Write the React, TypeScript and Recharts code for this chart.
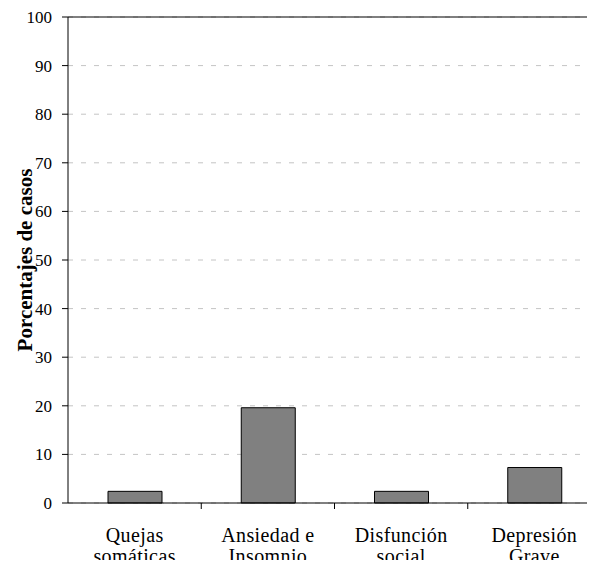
import React from 'react';
import { BarChart, Bar, XAxis, YAxis, CartesianGrid, ReferenceLine } from 'recharts';

// categories are two-line labels in the original
const categories = ['Quejas|somáticas', 'Ansiedad e|Insomnio', 'Disfunción|social', 'Depresión|Grave'];
const percentages = [2.4, 19.6, 2.4, 7.3];
const yTicks = [0, 10, 20, 30, 40, 50, 60, 70, 80, 90, 100];

const data = categories.map((name, i) => ({ name, value: percentages[i] }));

const CHART_W = 640;
const CHART_H = 568;
const MARGIN = { top: 9, right: 47, left: 0, bottom: 13 };
const Y_AXIS_W = 60;
const BAND = (CHART_W - MARGIN.left - MARGIN.right - Y_AXIS_W) / categories.length;
const FONT = '"Liberation Serif", "Times New Roman", serif';

const CategoryTick = (props: any) => {
  const { x, y, payload } = props;
  const lines = String(payload.value).split('|');
  return (
    <g>
      {/* tick marks sit on category boundaries, not centres */}
      <line x1={x + BAND / 2} x2={x + BAND / 2} y1={y} y2={y + 6} stroke="#000" />
      {lines.map((line, i) => (
        <text
          key={i}
          x={x}
          y={y + 39 + i * 21}
          textAnchor="middle"
          fontFamily={FONT}
          fontSize={20}
          letterSpacing={0.4}
          fill="#000"
        >
          {line}
        </text>
      ))}
    </g>
  );
};

const App: React.FC = () => {
  return (
    // chart is wider than the window on purpose: the right frame edge falls off-page
    <div style={{ width: 587, height: 560, overflow: 'hidden', marginBottom: -8 }}>
      <BarChart width={CHART_W} height={CHART_H} data={data} margin={MARGIN}>
        <CartesianGrid vertical={false} strokeDasharray="5 8" stroke="#c4c4c4" />
        <XAxis
          dataKey="name"
          axisLine={{ stroke: '#000' }}
          tickLine={false}
          tickSize={0}
          tickMargin={0}
          height={60}
          interval={0}
          tick={<CategoryTick />}
        />
        <YAxis
          domain={[0, 100]}
          ticks={yTicks}
          interval={0}
          width={Y_AXIS_W}
          axisLine={{ stroke: '#000' }}
          tickLine={{ stroke: '#000' }}
          tickSize={6}
          tickMargin={10}
          tick={{ fill: '#000', fontSize: 17, fontFamily: FONT }}
          label={{
            value: 'Porcentajes de casos',
            angle: -90,
            position: 'insideLeft',
            dx: 12,
            fill: '#000',
            fontSize: 21,
            fontWeight: 'bold',
            fontFamily: FONT,
            style: { textAnchor: 'middle' },
          }}
        />
        <ReferenceLine y={100} stroke="#000" />
        <Bar dataKey="value" fill="#808080" stroke="#000" strokeWidth={1} barSize={54} isAnimationActive={false} />
      </BarChart>
    </div>
  );
};

export default App;
